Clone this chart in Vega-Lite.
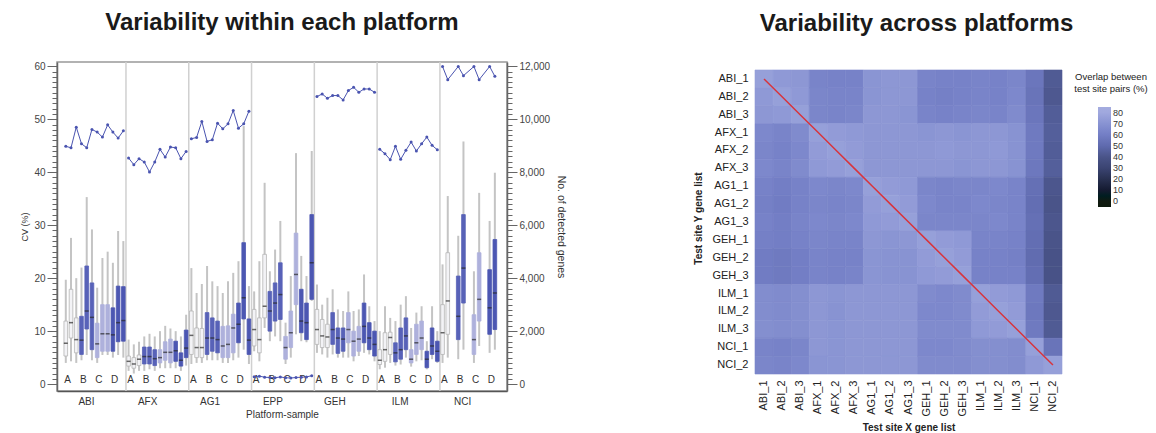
{
"$schema": "https://vega.github.io/schema/vega-lite/v6.json",
"padding": {"left": 20, "top": 10, "right": 5, "bottom": 0},
"background": "white",
"config": {"font": "Liberation Sans", "view": {"stroke": null}, "axis": {"grid": false}},
"spacing": 126,
"hconcat": [
{
"title": {"text": "Variability within each platform", "fontSize": 24, "fontWeight": "bold", "color": "#1a1a1a", "anchor": "middle", "offset": 26},
"width": 450, "height": 329,
"view": {"stroke": "#999", "strokeWidth": 1.5},
"data": {"values": [
{"p":"ABI","s":"A","t":1,"k":"ABI|A|1","lo":4.0,"q1":5.3,"md":7.7,"q3":11.9,"hi":19.7,"g":8975},
{"p":"ABI","s":"A","t":2,"k":"ABI|A|2","lo":4.3,"q1":8.7,"md":11.6,"q3":17.9,"hi":27.6,"g":8923},
{"p":"ABI","s":"A","t":3,"k":"ABI|A|3","lo":4.0,"q1":5.9,"md":8.4,"q3":12.5,"hi":20.0,"g":9701},
{"p":"ABI","s":"B","t":1,"k":"ABI|B|1","lo":4.5,"q1":5.6,"md":8.3,"q3":12.8,"hi":22.0,"g":9073},
{"p":"ABI","s":"B","t":2,"k":"ABI|B|2","lo":5.5,"q1":10.4,"md":13.8,"q3":22.3,"hi":35.3,"g":8923},
{"p":"ABI","s":"B","t":3,"k":"ABI|B|3","lo":4.5,"q1":6.5,"md":12.6,"q3":19.1,"hi":29.2,"g":9614},
{"p":"ABI","s":"C","t":1,"k":"ABI|C|1","lo":4.0,"q1":5.0,"md":7.6,"q3":11.5,"hi":18.2,"g":9513},
{"p":"ABI","s":"C","t":2,"k":"ABI|C|2","lo":5.5,"q1":6.2,"md":9.5,"q3":15.0,"hi":23.8,"g":9325},
{"p":"ABI","s":"C","t":3,"k":"ABI|C|3","lo":5.5,"q1":6.2,"md":9.5,"q3":15.0,"hi":25.0,"g":9787},
{"p":"ABI","s":"D","t":1,"k":"ABI|D|1","lo":5.0,"q1":6.2,"md":9.3,"q3":14.4,"hi":22.9,"g":9513},
{"p":"ABI","s":"D","t":2,"k":"ABI|D|2","lo":5.5,"q1":8.0,"md":11.6,"q3":18.5,"hi":28.9,"g":9287},
{"p":"ABI","s":"D","t":3,"k":"ABI|D|3","lo":5.0,"q1":8.1,"md":12.0,"q3":18.4,"hi":27.0,"g":9562},
{"p":"AFX","s":"A","t":1,"k":"AFX|A|1","lo":2.5,"q1":3.4,"md":4.3,"q3":5.3,"hi":8.4,"g":8535},
{"p":"AFX","s":"A","t":2,"k":"AFX|A|2","lo":2.0,"q1":3.0,"md":3.8,"q3":5.0,"hi":7.5,"g":8284},
{"p":"AFX","s":"A","t":3,"k":"AFX|A|3","lo":2.5,"q1":3.5,"md":4.7,"q3":5.5,"hi":8.0,"g":8510},
{"p":"AFX","s":"B","t":1,"k":"AFX|B|1","lo":2.5,"q1":3.8,"md":5.2,"q3":7.0,"hi":9.0,"g":8385},
{"p":"AFX","s":"B","t":2,"k":"AFX|B|2","lo":2.8,"q1":3.8,"md":5.2,"q3":7.0,"hi":9.5,"g":8009},
{"p":"AFX","s":"B","t":3,"k":"AFX|B|3","lo":2.5,"q1":3.5,"md":4.8,"q3":6.5,"hi":9.0,"g":8385},
{"p":"AFX","s":"C","t":1,"k":"AFX|C|1","lo":3.0,"q1":4.0,"md":5.0,"q3":6.5,"hi":10.0,"g":8862},
{"p":"AFX","s":"C","t":2,"k":"AFX|C|2","lo":3.0,"q1":4.5,"md":6.0,"q3":8.0,"hi":11.0,"g":8573},
{"p":"AFX","s":"C","t":3,"k":"AFX|C|3","lo":3.0,"q1":4.0,"md":6.0,"q3":8.5,"hi":10.5,"g":8949},
{"p":"AFX","s":"D","t":1,"k":"AFX|D|1","lo":3.0,"q1":4.3,"md":6.3,"q3":8.1,"hi":10.0,"g":8923},
{"p":"AFX","s":"D","t":2,"k":"AFX|D|2","lo":2.5,"q1":3.4,"md":4.5,"q3":5.9,"hi":9.0,"g":8510},
{"p":"AFX","s":"D","t":3,"k":"AFX|D|3","lo":3.5,"q1":5.0,"md":6.8,"q3":10.2,"hi":13.1,"g":8786},
{"p":"AG1","s":"A","t":1,"k":"AG1|A|1","lo":3.8,"q1":5.6,"md":9.2,"q3":13.8,"hi":21.9,"g":9261},
{"p":"AG1","s":"A","t":2,"k":"AG1|A|2","lo":4.0,"q1":5.0,"md":6.9,"q3":10.6,"hi":17.2,"g":9313},
{"p":"AG1","s":"A","t":3,"k":"AG1|A|3","lo":4.0,"q1":5.0,"md":6.9,"q3":10.5,"hi":18.9,"g":9915},
{"p":"AG1","s":"B","t":1,"k":"AG1|B|1","lo":4.5,"q1":5.6,"md":8.7,"q3":13.5,"hi":22.3,"g":9163},
{"p":"AG1","s":"B","t":2,"k":"AG1|B|2","lo":4.5,"q1":6.2,"md":8.7,"q3":12.5,"hi":19.4,"g":9223},
{"p":"AG1","s":"B","t":3,"k":"AG1|B|3","lo":4.5,"q1":5.9,"md":8.4,"q3":11.9,"hi":18.5,"g":9851},
{"p":"AG1","s":"C","t":1,"k":"AG1|C|1","lo":4.0,"q1":5.0,"md":7.2,"q3":10.9,"hi":17.2,"g":9637},
{"p":"AG1","s":"C","t":2,"k":"AG1|C|2","lo":4.0,"q1":5.0,"md":7.5,"q3":11.0,"hi":19.4,"g":9825},
{"p":"AG1","s":"C","t":3,"k":"AG1|C|3","lo":4.5,"q1":5.9,"md":10.6,"q3":13.2,"hi":21.0,"g":10329},
{"p":"AG1","s":"D","t":1,"k":"AG1|D|1","lo":5.0,"q1":7.8,"md":11.3,"q3":15.3,"hi":23.2,"g":9663},
{"p":"AG1","s":"D","t":2,"k":"AG1|D|2","lo":6.5,"q1":12.3,"md":16.3,"q3":26.7,"hi":48.7,"g":9825},
{"p":"AG1","s":"D","t":3,"k":"AG1|D|3","lo":3.8,"q1":5.6,"md":8.3,"q3":12.3,"hi":18.5,"g":10302},
{"p":"EPP","s":"A","t":1,"k":"EPP|A|1","lo":6.2,"q1":7.2,"md":10.3,"q3":14.1,"hi":17.5,"g":280},
{"p":"EPP","s":"A","t":2,"k":"EPP|A|2","lo":4.3,"q1":5.9,"md":8.4,"q3":12.5,"hi":23.2,"g":300},
{"p":"EPP","s":"A","t":3,"k":"EPP|A|3","lo":10.6,"q1":12.5,"md":14.7,"q3":24.5,"hi":38.0,"g":260},
{"p":"EPP","s":"B","t":1,"k":"EPP|B|1","lo":8.1,"q1":10.0,"md":13.8,"q3":17.5,"hi":21.3,"g":250},
{"p":"EPP","s":"B","t":2,"k":"EPP|B|2","lo":9.0,"q1":11.9,"md":15.3,"q3":19.1,"hi":25.4,"g":240},
{"p":"EPP","s":"B","t":3,"k":"EPP|B|3","lo":8.1,"q1":12.2,"md":16.9,"q3":22.9,"hi":30.8,"g":270},
{"p":"EPP","s":"C","t":1,"k":"EPP|C|1","lo":3.8,"q1":4.7,"md":6.9,"q3":9.0,"hi":11.6,"g":240},
{"p":"EPP","s":"C","t":2,"k":"EPP|C|2","lo":5.0,"q1":6.9,"md":9.7,"q3":13.8,"hi":20.4,"g":230},
{"p":"EPP","s":"C","t":3,"k":"EPP|C|3","lo":9.4,"q1":15.0,"md":20.7,"q3":28.5,"hi":43.6,"g":250},
{"p":"EPP","s":"D","t":1,"k":"EPP|D|1","lo":8.1,"q1":9.7,"md":11.9,"q3":17.9,"hi":24.2,"g":260},
{"p":"EPP","s":"D","t":2,"k":"EPP|D|2","lo":7.9,"q1":8.4,"md":11.6,"q3":15.3,"hi":20.4,"g":270},
{"p":"EPP","s":"D","t":3,"k":"EPP|D|3","lo":15.7,"q1":16.0,"md":22.9,"q3":32.0,"hi":44.0,"g":320},
{"p":"GEH","s":"A","t":1,"k":"GEH|A|1","lo":5.9,"q1":7.5,"md":10.3,"q3":14.1,"hi":18.8,"g":10855},
{"p":"GEH","s":"A","t":2,"k":"GEH|A|2","lo":5.6,"q1":6.9,"md":9.1,"q3":12.2,"hi":15.0,"g":10953},
{"p":"GEH","s":"A","t":3,"k":"GEH|A|3","lo":5.0,"q1":6.9,"md":8.9,"q3":11.3,"hi":16.3,"g":10791},
{"p":"GEH","s":"B","t":1,"k":"GEH|B|1","lo":5.6,"q1":7.5,"md":10.3,"q3":13.5,"hi":17.9,"g":10893},
{"p":"GEH","s":"B","t":2,"k":"GEH|B|2","lo":5.0,"q1":5.8,"md":8.7,"q3":10.6,"hi":14.1,"g":10893},
{"p":"GEH","s":"B","t":3,"k":"GEH|B|3","lo":5.0,"q1":6.2,"md":8.5,"q3":10.6,"hi":13.8,"g":10727},
{"p":"GEH","s":"C","t":1,"k":"GEH|C|1","lo":5.0,"q1":7.8,"md":10.3,"q3":13.5,"hi":17.5,"g":11081},
{"p":"GEH","s":"C","t":2,"k":"GEH|C|2","lo":4.3,"q1":5.3,"md":8.1,"q3":10.0,"hi":13.8,"g":11205},
{"p":"GEH","s":"C","t":3,"k":"GEH|C|3","lo":5.3,"q1":6.2,"md":8.5,"q3":10.9,"hi":14.1,"g":11017},
{"p":"GEH","s":"D","t":1,"k":"GEH|D|1","lo":5.9,"q1":7.8,"md":10.9,"q3":15.3,"hi":20.7,"g":11141},
{"p":"GEH","s":"D","t":2,"k":"GEH|D|2","lo":5.6,"q1":6.5,"md":8.7,"q3":11.6,"hi":14.7,"g":11141},
{"p":"GEH","s":"D","t":3,"k":"GEH|D|3","lo":4.3,"q1":5.3,"md":7.5,"q3":10.0,"hi":11.9,"g":11017},
{"p":"ILM","s":"A","t":1,"k":"ILM|A|1","lo":2.8,"q1":3.7,"md":4.5,"q3":6.5,"hi":10.0,"g":8862},
{"p":"ILM","s":"A","t":2,"k":"ILM|A|2","lo":3.1,"q1":4.3,"md":6.5,"q3":9.7,"hi":14.7,"g":8697},
{"p":"ILM","s":"A","t":3,"k":"ILM|A|3","lo":4.0,"q1":5.6,"md":8.8,"q3":9.8,"hi":12.5,"g":8471},
{"p":"ILM","s":"B","t":1,"k":"ILM|B|1","lo":3.5,"q1":4.2,"md":5.9,"q3":7.8,"hi":11.9,"g":8975},
{"p":"ILM","s":"B","t":2,"k":"ILM|B|2","lo":3.7,"q1":4.7,"md":6.5,"q3":10.6,"hi":15.0,"g":8486},
{"p":"ILM","s":"B","t":3,"k":"ILM|B|3","lo":5.0,"q1":6.5,"md":9.1,"q3":12.5,"hi":16.6,"g":8825},
{"p":"ILM","s":"C","t":1,"k":"ILM|C|1","lo":3.3,"q1":4.0,"md":4.7,"q3":6.5,"hi":10.6,"g":9137},
{"p":"ILM","s":"C","t":2,"k":"ILM|C|2","lo":4.3,"q1":5.6,"md":7.8,"q3":11.3,"hi":13.5,"g":8798},
{"p":"ILM","s":"C","t":3,"k":"ILM|C|3","lo":4.5,"q1":6.5,"md":8.7,"q3":11.9,"hi":14.7,"g":9073},
{"p":"ILM","s":"D","t":1,"k":"ILM|D|1","lo":2.8,"q1":3.1,"md":4.7,"q3":6.2,"hi":8.1,"g":9325},
{"p":"ILM","s":"D","t":2,"k":"ILM|D|2","lo":4.7,"q1":5.6,"md":7.2,"q3":10.6,"hi":14.7,"g":9013},
{"p":"ILM","s":"D","t":3,"k":"ILM|D|3","lo":4.0,"q1":4.3,"md":6.2,"q3":8.1,"hi":10.0,"g":8847},
{"p":"NCI","s":"A","t":1,"k":"NCI|A|1","lo":4.0,"q1":5.6,"md":9.7,"q3":15.0,"hi":22.6,"g":11990},
{"p":"NCI","s":"A","t":2,"k":"NCI|A|2","lo":5.0,"q1":9.4,"md":15.7,"q3":24.8,"hi":35.5,"g":11494},
{"p":"NCI","s":"B","t":1,"k":"NCI|B|1","lo":4.7,"q1":8.4,"md":12.8,"q3":20.4,"hi":28.0,"g":11990},
{"p":"NCI","s":"B","t":2,"k":"NCI|B|2","lo":6.5,"q1":15.3,"md":21.9,"q3":32.0,"hi":45.8,"g":11645},
{"p":"NCI","s":"C","t":1,"k":"NCI|C|1","lo":4.0,"q1":5.6,"md":8.4,"q3":13.1,"hi":21.3,"g":11990},
{"p":"NCI","s":"C","t":2,"k":"NCI|C|2","lo":7.2,"q1":11.9,"md":16.0,"q3":24.8,"hi":36.1,"g":11494},
{"p":"NCI","s":"D","t":1,"k":"NCI|D|1","lo":5.9,"q1":9.4,"md":14.4,"q3":21.6,"hi":30.8,"g":11990},
{"p":"NCI","s":"D","t":2,"k":"NCI|D|2","lo":6.5,"q1":10.3,"md":17.2,"q3":27.3,"hi":39.9,"g":11618}
]},
"layer": [
{"layer": [
{"transform": [{"filter": "datum.s === 'A' && datum.t === 1 && datum.p !== 'ABI'"}],
 "mark": {"type": "rule", "color": "#d0d0d0", "strokeWidth": 1.5},
 "encoding": {"x": {"field": "k", "type": "nominal", "bandPosition": 0}}},
{"mark": {"type": "rule", "color": "#c4c4c4", "strokeWidth": 2},
 "encoding": {
  "x": {"field": "k", "type": "nominal",
   "scale": {"type": "band", "paddingInner": 0, "paddingOuter": 1.72, "align": 0.59,
    "domain": ["ABI|A|1","ABI|A|2","ABI|A|3","ABI|B|1","ABI|B|2","ABI|B|3","ABI|C|1","ABI|C|2","ABI|C|3","ABI|D|1","ABI|D|2","ABI|D|3",
     "AFX|A|1","AFX|A|2","AFX|A|3","AFX|B|1","AFX|B|2","AFX|B|3","AFX|C|1","AFX|C|2","AFX|C|3","AFX|D|1","AFX|D|2","AFX|D|3",
     "AG1|A|1","AG1|A|2","AG1|A|3","AG1|B|1","AG1|B|2","AG1|B|3","AG1|C|1","AG1|C|2","AG1|C|3","AG1|D|1","AG1|D|2","AG1|D|3",
     "EPP|A|1","EPP|A|2","EPP|A|3","EPP|B|1","EPP|B|2","EPP|B|3","EPP|C|1","EPP|C|2","EPP|C|3","EPP|D|1","EPP|D|2","EPP|D|3",
     "GEH|A|1","GEH|A|2","GEH|A|3","GEH|B|1","GEH|B|2","GEH|B|3","GEH|C|1","GEH|C|2","GEH|C|3","GEH|D|1","GEH|D|2","GEH|D|3",
     "ILM|A|1","ILM|A|2","ILM|A|3","ILM|B|1","ILM|B|2","ILM|B|3","ILM|C|1","ILM|C|2","ILM|C|3","ILM|D|1","ILM|D|2","ILM|D|3",
     "NCI|A|1","NCI|A|2","NCI|A|3","NCI|B|1","NCI|B|2","NCI|B|3","NCI|C|1","NCI|C|2","NCI|C|3","NCI|D|1","NCI|D|2","NCI|D|3"]},
   "axis": {"title": "Platform-sample", "titleFontSize": 10, "titleFontWeight": "normal", "titleColor": "#333", "titlePadding": 3,
    "ticks": false, "domainColor": "#555", "domainWidth": 1.5, "labelAngle": 0, "labelOverlap": false,
    "labelFontSize": 10, "labelColor": "#333",
    "labelExpr": "indexof(datum.value,'|2') > 0 ? split(datum.value,'|')[1] : (indexof(datum.value,'|B|3') > 0 ? split(datum.value,'|')[0] : '')",
    "labelPadding": {"condition": {"test": "indexof(datum.value,'|B|3') > 0", "value": 10}, "value": -12},
    "labelOffset": {"condition": {"test": "indexof(datum.value,'|B|3') > 0", "value": 2.6}, "value": 0}}},
  "y": {"field": "lo", "type": "quantitative",
   "scale": {"domain": [-1.3, 60.8], "nice": false, "zero": false},
   "axis": {"title": "CV (%)", "titleFontSize": 9, "titleFontWeight": "normal", "titleColor": "#333", "titlePadding": 4,
    "values": [0,1,2,3,4,5,6,7,8,9,10,11,12,13,14,15,16,17,18,19,20,21,22,23,24,25,26,27,28,29,30,31,32,33,34,35,36,37,38,39,40,41,42,43,44,45,46,47,48,49,50,51,52,53,54,55,56,57,58,59,60],
    "labelExpr": "datum.value % 10 === 0 ? datum.label : ''", "labelOverlap": false,
    "labelFontSize": 10, "labelColor": "#444", "labelPadding": 2,
    "tickSize": {"condition": {"test": "datum.value % 10 === 0", "value": 10}, "value": 5},
    "tickColor": "#666", "domainColor": "#666", "domainWidth": 1.5}},
  "y2": {"field": "hi"}}},
{"mark": {"type": "bar", "width": {"band": 0.7}, "strokeWidth": 0.8},
 "encoding": {
  "x": {"field": "k", "type": "nominal"},
  "y": {"field": "q1", "type": "quantitative",
   "axis": {"title": "CV (%)", "titleFontSize": 9, "titleFontWeight": "normal", "titleColor": "#333", "titlePadding": 4,
    "values": [0,1,2,3,4,5,6,7,8,9,10,11,12,13,14,15,16,17,18,19,20,21,22,23,24,25,26,27,28,29,30,31,32,33,34,35,36,37,38,39,40,41,42,43,44,45,46,47,48,49,50,51,52,53,54,55,56,57,58,59,60],
    "labelExpr": "datum.value % 10 === 0 ? datum.label : ''", "labelOverlap": false,
    "labelFontSize": 10, "labelColor": "#444", "labelPadding": 2,
    "tickSize": {"condition": {"test": "datum.value % 10 === 0", "value": 10}, "value": 5},
    "tickColor": "#666", "domainColor": "#666", "domainWidth": 1.5}},
  "y2": {"field": "q3"},
  "fill": {"field": "s", "type": "nominal", "scale": {"domain": ["A","B","C","D"], "range": ["#f3f3f6","#5862b8","#aeb1dc","#4c57b2"]}, "legend": null},
  "stroke": {"field": "s", "type": "nominal", "scale": {"domain": ["A","B","C","D"], "range": ["#b5b5b5","#5862b8","#aeb1dc","#4c57b2"]}, "legend": null}}},
{"mark": {"type": "tick", "color": "#2a2a2a", "thickness": 1.5, "size": 4},
 "encoding": {
  "x": {"field": "k", "type": "nominal"},
  "y": {"field": "md", "type": "quantitative",
   "axis": {"title": "CV (%)", "titleFontSize": 9, "titleFontWeight": "normal", "titleColor": "#333", "titlePadding": 4,
    "values": [0,1,2,3,4,5,6,7,8,9,10,11,12,13,14,15,16,17,18,19,20,21,22,23,24,25,26,27,28,29,30,31,32,33,34,35,36,37,38,39,40,41,42,43,44,45,46,47,48,49,50,51,52,53,54,55,56,57,58,59,60],
    "labelExpr": "datum.value % 10 === 0 ? datum.label : ''", "labelOverlap": false,
    "labelFontSize": 10, "labelColor": "#444", "labelPadding": 2,
    "tickSize": {"condition": {"test": "datum.value % 10 === 0", "value": 10}, "value": 5},
    "tickColor": "#666", "domainColor": "#666", "domainWidth": 1.5}}}}
]},
{"mark": {"type": "line", "color": "#4a54b0", "strokeWidth": 1, "point": {"filled": true, "size": 9, "color": "#4a54b0"}},
 "encoding": {
  "x": {"field": "k", "type": "nominal"},
  "y": {"field": "g", "type": "quantitative",
   "scale": {"domain": [-260, 12160], "nice": false, "zero": false},
   "axis": {"orient": "right", "title": "No. of detected genes", "titleFontSize": 10.5, "titleFontWeight": "normal", "titleColor": "#333", "titlePadding": 6,
    "values": [0,200,400,600,800,1000,1200,1400,1600,1800,2000,2200,2400,2600,2800,3000,3200,3400,3600,3800,4000,4200,4400,4600,4800,5000,5200,5400,5600,5800,6000,6200,6400,6600,6800,7000,7200,7400,7600,7800,8000,8200,8400,8600,8800,9000,9200,9400,9600,9800,10000,10200,10400,10600,10800,11000,11200,11400,11600,11800,12000],
    "labelExpr": "datum.value % 2000 === 0 ? format(datum.value, ',') : ''", "labelOverlap": false,
    "labelFontSize": 10, "labelColor": "#444", "labelPadding": 2,
    "tickSize": {"condition": {"test": "datum.value % 2000 === 0", "value": 10}, "value": 5},
    "tickColor": "#666", "domainColor": "#666", "domainWidth": 1.5}},
  "detail": {"field": "p", "type": "nominal"}}}
],
"resolve": {"scale": {"y": "independent"}}
},
{
"title": {"text": "Variability across platforms", "fontSize": 24, "fontWeight": "bold", "color": "#1a1a1a", "anchor": "middle", "offset": 26, "dx": 8},
"width": 307, "height": 312,
"data": {"values": [
{"y":"ABI_1","x":"ABI_1","v":76},{"y":"ABI_1","x":"ABI_2","v":73},{"y":"ABI_1","x":"ABI_3","v":72},{"y":"ABI_1","x":"AFX_1","v":63},{"y":"ABI_1","x":"AFX_2","v":62},{"y":"ABI_1","x":"AFX_3","v":62},{"y":"ABI_1","x":"AG1_1","v":71},{"y":"ABI_1","x":"AG1_2","v":72},{"y":"ABI_1","x":"AG1_3","v":72},{"y":"ABI_1","x":"GEH_1","v":63},{"y":"ABI_1","x":"GEH_2","v":62},{"y":"ABI_1","x":"GEH_3","v":62},{"y":"ABI_1","x":"ILM_1","v":63},{"y":"ABI_1","x":"ILM_2","v":62},{"y":"ABI_1","x":"ILM_3","v":64},{"y":"ABI_1","x":"NCI_1","v":56},{"y":"ABI_1","x":"NCI_2","v":43},
{"y":"ABI_2","x":"ABI_1","v":73},{"y":"ABI_2","x":"ABI_2","v":76},{"y":"ABI_2","x":"ABI_3","v":73},{"y":"ABI_2","x":"AFX_1","v":64},{"y":"ABI_2","x":"AFX_2","v":63},{"y":"ABI_2","x":"AFX_3","v":63},{"y":"ABI_2","x":"AG1_1","v":71},{"y":"ABI_2","x":"AG1_2","v":72},{"y":"ABI_2","x":"AG1_3","v":72},{"y":"ABI_2","x":"GEH_1","v":62},{"y":"ABI_2","x":"GEH_2","v":61},{"y":"ABI_2","x":"GEH_3","v":62},{"y":"ABI_2","x":"ILM_1","v":63},{"y":"ABI_2","x":"ILM_2","v":62},{"y":"ABI_2","x":"ILM_3","v":65},{"y":"ABI_2","x":"NCI_1","v":55},{"y":"ABI_2","x":"NCI_2","v":42},
{"y":"ABI_3","x":"ABI_1","v":72},{"y":"ABI_3","x":"ABI_2","v":73},{"y":"ABI_3","x":"ABI_3","v":76},{"y":"ABI_3","x":"AFX_1","v":64},{"y":"ABI_3","x":"AFX_2","v":63},{"y":"ABI_3","x":"AFX_3","v":64},{"y":"ABI_3","x":"AG1_1","v":72},{"y":"ABI_3","x":"AG1_2","v":72},{"y":"ABI_3","x":"AG1_3","v":71},{"y":"ABI_3","x":"GEH_1","v":63},{"y":"ABI_3","x":"GEH_2","v":62},{"y":"ABI_3","x":"GEH_3","v":63},{"y":"ABI_3","x":"ILM_1","v":64},{"y":"ABI_3","x":"ILM_2","v":63},{"y":"ABI_3","x":"ILM_3","v":66},{"y":"ABI_3","x":"NCI_1","v":56},{"y":"ABI_3","x":"NCI_2","v":44},
{"y":"AFX_1","x":"ABI_1","v":65},{"y":"AFX_1","x":"ABI_2","v":63},{"y":"AFX_1","x":"ABI_3","v":66},{"y":"AFX_1","x":"AFX_1","v":76},{"y":"AFX_1","x":"AFX_2","v":74},{"y":"AFX_1","x":"AFX_3","v":73},{"y":"AFX_1","x":"AG1_1","v":72},{"y":"AFX_1","x":"AG1_2","v":72},{"y":"AFX_1","x":"AG1_3","v":72},{"y":"AFX_1","x":"GEH_1","v":71},{"y":"AFX_1","x":"GEH_2","v":72},{"y":"AFX_1","x":"GEH_3","v":71},{"y":"AFX_1","x":"ILM_1","v":72},{"y":"AFX_1","x":"ILM_2","v":72},{"y":"AFX_1","x":"ILM_3","v":70},{"y":"AFX_1","x":"NCI_1","v":58},{"y":"AFX_1","x":"NCI_2","v":45},
{"y":"AFX_2","x":"ABI_1","v":64},{"y":"AFX_2","x":"ABI_2","v":62},{"y":"AFX_2","x":"ABI_3","v":65},{"y":"AFX_2","x":"AFX_1","v":74},{"y":"AFX_2","x":"AFX_2","v":76},{"y":"AFX_2","x":"AFX_3","v":74},{"y":"AFX_2","x":"AG1_1","v":72},{"y":"AFX_2","x":"AG1_2","v":72},{"y":"AFX_2","x":"AG1_3","v":72},{"y":"AFX_2","x":"GEH_1","v":72},{"y":"AFX_2","x":"GEH_2","v":73},{"y":"AFX_2","x":"GEH_3","v":72},{"y":"AFX_2","x":"ILM_1","v":72},{"y":"AFX_2","x":"ILM_2","v":73},{"y":"AFX_2","x":"ILM_3","v":70},{"y":"AFX_2","x":"NCI_1","v":58},{"y":"AFX_2","x":"NCI_2","v":44},
{"y":"AFX_3","x":"ABI_1","v":65},{"y":"AFX_3","x":"ABI_2","v":63},{"y":"AFX_3","x":"ABI_3","v":66},{"y":"AFX_3","x":"AFX_1","v":73},{"y":"AFX_3","x":"AFX_2","v":74},{"y":"AFX_3","x":"AFX_3","v":76},{"y":"AFX_3","x":"AG1_1","v":72},{"y":"AFX_3","x":"AG1_2","v":72},{"y":"AFX_3","x":"AG1_3","v":72},{"y":"AFX_3","x":"GEH_1","v":72},{"y":"AFX_3","x":"GEH_2","v":72},{"y":"AFX_3","x":"GEH_3","v":71},{"y":"AFX_3","x":"ILM_1","v":72},{"y":"AFX_3","x":"ILM_2","v":72},{"y":"AFX_3","x":"ILM_3","v":70},{"y":"AFX_3","x":"NCI_1","v":57},{"y":"AFX_3","x":"NCI_2","v":45},
{"y":"AG1_1","x":"ABI_1","v":62},{"y":"AG1_1","x":"ABI_2","v":60},{"y":"AG1_1","x":"ABI_3","v":62},{"y":"AG1_1","x":"AFX_1","v":65},{"y":"AG1_1","x":"AFX_2","v":64},{"y":"AG1_1","x":"AFX_3","v":65},{"y":"AG1_1","x":"AG1_1","v":76},{"y":"AG1_1","x":"AG1_2","v":74},{"y":"AG1_1","x":"AG1_3","v":73},{"y":"AG1_1","x":"GEH_1","v":64},{"y":"AG1_1","x":"GEH_2","v":63},{"y":"AG1_1","x":"GEH_3","v":64},{"y":"AG1_1","x":"ILM_1","v":64},{"y":"AG1_1","x":"ILM_2","v":65},{"y":"AG1_1","x":"ILM_3","v":63},{"y":"AG1_1","x":"NCI_1","v":53},{"y":"AG1_1","x":"NCI_2","v":41},
{"y":"AG1_2","x":"ABI_1","v":61},{"y":"AG1_2","x":"ABI_2","v":59},{"y":"AG1_2","x":"ABI_3","v":62},{"y":"AG1_2","x":"AFX_1","v":64},{"y":"AG1_2","x":"AFX_2","v":63},{"y":"AG1_2","x":"AFX_3","v":64},{"y":"AG1_2","x":"AG1_1","v":74},{"y":"AG1_2","x":"AG1_2","v":76},{"y":"AG1_2","x":"AG1_3","v":74},{"y":"AG1_2","x":"GEH_1","v":65},{"y":"AG1_2","x":"GEH_2","v":63},{"y":"AG1_2","x":"GEH_3","v":63},{"y":"AG1_2","x":"ILM_1","v":65},{"y":"AG1_2","x":"ILM_2","v":64},{"y":"AG1_2","x":"ILM_3","v":63},{"y":"AG1_2","x":"NCI_1","v":52},{"y":"AG1_2","x":"NCI_2","v":40},
{"y":"AG1_3","x":"ABI_1","v":62},{"y":"AG1_3","x":"ABI_2","v":60},{"y":"AG1_3","x":"ABI_3","v":63},{"y":"AG1_3","x":"AFX_1","v":65},{"y":"AG1_3","x":"AFX_2","v":64},{"y":"AG1_3","x":"AFX_3","v":65},{"y":"AG1_3","x":"AG1_1","v":73},{"y":"AG1_3","x":"AG1_2","v":74},{"y":"AG1_3","x":"AG1_3","v":76},{"y":"AG1_3","x":"GEH_1","v":64},{"y":"AG1_3","x":"GEH_2","v":64},{"y":"AG1_3","x":"GEH_3","v":64},{"y":"AG1_3","x":"ILM_1","v":64},{"y":"AG1_3","x":"ILM_2","v":65},{"y":"AG1_3","x":"ILM_3","v":63},{"y":"AG1_3","x":"NCI_1","v":53},{"y":"AG1_3","x":"NCI_2","v":41},
{"y":"GEH_1","x":"ABI_1","v":61},{"y":"GEH_1","x":"ABI_2","v":60},{"y":"GEH_1","x":"ABI_3","v":62},{"y":"GEH_1","x":"AFX_1","v":64},{"y":"GEH_1","x":"AFX_2","v":63},{"y":"GEH_1","x":"AFX_3","v":63},{"y":"GEH_1","x":"AG1_1","v":72},{"y":"GEH_1","x":"AG1_2","v":71},{"y":"GEH_1","x":"AG1_3","v":72},{"y":"GEH_1","x":"GEH_1","v":76},{"y":"GEH_1","x":"GEH_2","v":74},{"y":"GEH_1","x":"GEH_3","v":73},{"y":"GEH_1","x":"ILM_1","v":63},{"y":"GEH_1","x":"ILM_2","v":63},{"y":"GEH_1","x":"ILM_3","v":62},{"y":"GEH_1","x":"NCI_1","v":52},{"y":"GEH_1","x":"NCI_2","v":40},
{"y":"GEH_2","x":"ABI_1","v":59},{"y":"GEH_2","x":"ABI_2","v":58},{"y":"GEH_2","x":"ABI_3","v":60},{"y":"GEH_2","x":"AFX_1","v":63},{"y":"GEH_2","x":"AFX_2","v":62},{"y":"GEH_2","x":"AFX_3","v":62},{"y":"GEH_2","x":"AG1_1","v":71},{"y":"GEH_2","x":"AG1_2","v":70},{"y":"GEH_2","x":"AG1_3","v":70},{"y":"GEH_2","x":"GEH_1","v":74},{"y":"GEH_2","x":"GEH_2","v":76},{"y":"GEH_2","x":"GEH_3","v":74},{"y":"GEH_2","x":"ILM_1","v":62},{"y":"GEH_2","x":"ILM_2","v":62},{"y":"GEH_2","x":"ILM_3","v":61},{"y":"GEH_2","x":"NCI_1","v":51},{"y":"GEH_2","x":"NCI_2","v":39},
{"y":"GEH_3","x":"ABI_1","v":59},{"y":"GEH_3","x":"ABI_2","v":58},{"y":"GEH_3","x":"ABI_3","v":60},{"y":"GEH_3","x":"AFX_1","v":63},{"y":"GEH_3","x":"AFX_2","v":62},{"y":"GEH_3","x":"AFX_3","v":63},{"y":"GEH_3","x":"AG1_1","v":71},{"y":"GEH_3","x":"AG1_2","v":70},{"y":"GEH_3","x":"AG1_3","v":70},{"y":"GEH_3","x":"GEH_1","v":73},{"y":"GEH_3","x":"GEH_2","v":74},{"y":"GEH_3","x":"GEH_3","v":76},{"y":"GEH_3","x":"ILM_1","v":62},{"y":"GEH_3","x":"ILM_2","v":62},{"y":"GEH_3","x":"ILM_3","v":62},{"y":"GEH_3","x":"NCI_1","v":52},{"y":"GEH_3","x":"NCI_2","v":39},
{"y":"ILM_1","x":"ABI_1","v":67},{"y":"ILM_1","x":"ABI_2","v":66},{"y":"ILM_1","x":"ABI_3","v":68},{"y":"ILM_1","x":"AFX_1","v":72},{"y":"ILM_1","x":"AFX_2","v":71},{"y":"ILM_1","x":"AFX_3","v":72},{"y":"ILM_1","x":"AG1_1","v":72},{"y":"ILM_1","x":"AG1_2","v":72},{"y":"ILM_1","x":"AG1_3","v":72},{"y":"ILM_1","x":"GEH_1","v":66},{"y":"ILM_1","x":"GEH_2","v":65},{"y":"ILM_1","x":"GEH_3","v":66},{"y":"ILM_1","x":"ILM_1","v":76},{"y":"ILM_1","x":"ILM_2","v":74},{"y":"ILM_1","x":"ILM_3","v":73},{"y":"ILM_1","x":"NCI_1","v":58},{"y":"ILM_1","x":"NCI_2","v":43},
{"y":"ILM_2","x":"ABI_1","v":67},{"y":"ILM_2","x":"ABI_2","v":66},{"y":"ILM_2","x":"ABI_3","v":68},{"y":"ILM_2","x":"AFX_1","v":72},{"y":"ILM_2","x":"AFX_2","v":70},{"y":"ILM_2","x":"AFX_3","v":72},{"y":"ILM_2","x":"AG1_1","v":72},{"y":"ILM_2","x":"AG1_2","v":72},{"y":"ILM_2","x":"AG1_3","v":72},{"y":"ILM_2","x":"GEH_1","v":65},{"y":"ILM_2","x":"GEH_2","v":65},{"y":"ILM_2","x":"GEH_3","v":66},{"y":"ILM_2","x":"ILM_1","v":74},{"y":"ILM_2","x":"ILM_2","v":76},{"y":"ILM_2","x":"ILM_3","v":74},{"y":"ILM_2","x":"NCI_1","v":57},{"y":"ILM_2","x":"NCI_2","v":42},
{"y":"ILM_3","x":"ABI_1","v":68},{"y":"ILM_3","x":"ABI_2","v":67},{"y":"ILM_3","x":"ABI_3","v":68},{"y":"ILM_3","x":"AFX_1","v":72},{"y":"ILM_3","x":"AFX_2","v":71},{"y":"ILM_3","x":"AFX_3","v":72},{"y":"ILM_3","x":"AG1_1","v":72},{"y":"ILM_3","x":"AG1_2","v":72},{"y":"ILM_3","x":"AG1_3","v":72},{"y":"ILM_3","x":"GEH_1","v":66},{"y":"ILM_3","x":"GEH_2","v":66},{"y":"ILM_3","x":"GEH_3","v":66},{"y":"ILM_3","x":"ILM_1","v":73},{"y":"ILM_3","x":"ILM_2","v":74},{"y":"ILM_3","x":"ILM_3","v":76},{"y":"ILM_3","x":"NCI_1","v":58},{"y":"ILM_3","x":"NCI_2","v":43},
{"y":"NCI_1","x":"ABI_1","v":63},{"y":"NCI_1","x":"ABI_2","v":62},{"y":"NCI_1","x":"ABI_3","v":64},{"y":"NCI_1","x":"AFX_1","v":72},{"y":"NCI_1","x":"AFX_2","v":71},{"y":"NCI_1","x":"AFX_3","v":72},{"y":"NCI_1","x":"AG1_1","v":72},{"y":"NCI_1","x":"AG1_2","v":72},{"y":"NCI_1","x":"AG1_3","v":72},{"y":"NCI_1","x":"GEH_1","v":65},{"y":"NCI_1","x":"GEH_2","v":65},{"y":"NCI_1","x":"GEH_3","v":66},{"y":"NCI_1","x":"ILM_1","v":68},{"y":"NCI_1","x":"ILM_2","v":68},{"y":"NCI_1","x":"ILM_3","v":67},{"y":"NCI_1","x":"NCI_1","v":76},{"y":"NCI_1","x":"NCI_2","v":55},
{"y":"NCI_2","x":"ABI_1","v":64},{"y":"NCI_2","x":"ABI_2","v":63},{"y":"NCI_2","x":"ABI_3","v":65},{"y":"NCI_2","x":"AFX_1","v":71},{"y":"NCI_2","x":"AFX_2","v":71},{"y":"NCI_2","x":"AFX_3","v":72},{"y":"NCI_2","x":"AG1_1","v":72},{"y":"NCI_2","x":"AG1_2","v":72},{"y":"NCI_2","x":"AG1_3","v":72},{"y":"NCI_2","x":"GEH_1","v":66},{"y":"NCI_2","x":"GEH_2","v":66},{"y":"NCI_2","x":"GEH_3","v":66},{"y":"NCI_2","x":"ILM_1","v":68},{"y":"NCI_2","x":"ILM_2","v":68},{"y":"NCI_2","x":"ILM_3","v":67},{"y":"NCI_2","x":"NCI_1","v":73},{"y":"NCI_2","x":"NCI_2","v":76}
]},
"layer": [
{"mark": {"type": "rect", "strokeWidth": 0.6},
 "encoding": {
  "x": {"field": "x", "type": "ordinal",
   "sort": ["ABI_1","ABI_2","ABI_3","AFX_1","AFX_2","AFX_3","AG1_1","AG1_2","AG1_3","GEH_1","GEH_2","GEH_3","ILM_1","ILM_2","ILM_3","NCI_1","NCI_2"],
   "axis": {"title": "Test site X gene list", "titleFontSize": 10, "titleFontWeight": "bold", "titleColor": "#222", "titlePadding": 6,
    "labelAngle": -90, "ticks": false, "domain": false, "labelFontSize": 11, "labelColor": "#222", "labelPadding": 6}},
  "y": {"field": "y", "type": "ordinal",
   "sort": ["ABI_1","ABI_2","ABI_3","AFX_1","AFX_2","AFX_3","AG1_1","AG1_2","AG1_3","GEH_1","GEH_2","GEH_3","ILM_1","ILM_2","ILM_3","NCI_1","NCI_2"],
   "scale": {"paddingInner": 0, "paddingOuter": 0.2235, "align": 1},
   "axis": {"title": "Test site Y gene list", "titleFontSize": 10, "titleFontWeight": "bold", "titleColor": "#222", "titlePadding": 8,
    "ticks": false, "domain": false, "labelFontSize": 11, "labelColor": "#222", "labelPadding": 7}},
  "color": {"field": "v", "type": "quantitative",
   "scale": {"domain": [-5,0,10,20,30,40,50,60,70,80,85], "range": ["#0d1a0d","#101a10","#141a30","#283050","#3b4472","#4a5489","#5f6aae","#737ec5","#8893d2","#a0a8de","#a4acdf"]},
   "legend": {"title": ["Overlap between", "test site pairs (%)"], "orient": "none", "legendX": 1017, "legendY": 10, "direction": "vertical",
    "gradientLength": 100, "gradientThickness": 13, "values": [0,10,20,30,40,50,60,70,80], "labelOverlap": false, "labelFlush": false,
    "labelFontSize": 9, "labelColor": "#333", "titleFontSize": 9.5, "titleFontWeight": "normal", "titleColor": "#222",
    "titleAnchor": "middle", "titleAlign": "center", "titlePadding": 14}},
  "stroke": {"field": "v", "type": "quantitative",
   "scale": {"domain": [-5,0,10,20,30,40,50,60,70,80,85], "range": ["#0d1a0d","#101a10","#141a30","#283050","#3b4472","#4a5489","#5f6aae","#737ec5","#8893d2","#a0a8de","#a4acdf"]},
   "legend": null}}},
{"transform": [{"filter": "datum.x === datum.y"}],
 "mark": {"type": "line", "color": "#d8343c", "strokeWidth": 1.5},
 "encoding": {
  "x": {"field": "x", "type": "ordinal", "sort": ["ABI_1","ABI_2","ABI_3","AFX_1","AFX_2","AFX_3","AG1_1","AG1_2","AG1_3","GEH_1","GEH_2","GEH_3","ILM_1","ILM_2","ILM_3","NCI_1","NCI_2"]},
  "y": {"field": "y", "type": "ordinal", "sort": ["ABI_1","ABI_2","ABI_3","AFX_1","AFX_2","AFX_3","AG1_1","AG1_2","AG1_3","GEH_1","GEH_2","GEH_3","ILM_1","ILM_2","ILM_3","NCI_1","NCI_2"]}}}
]
}
]
}
